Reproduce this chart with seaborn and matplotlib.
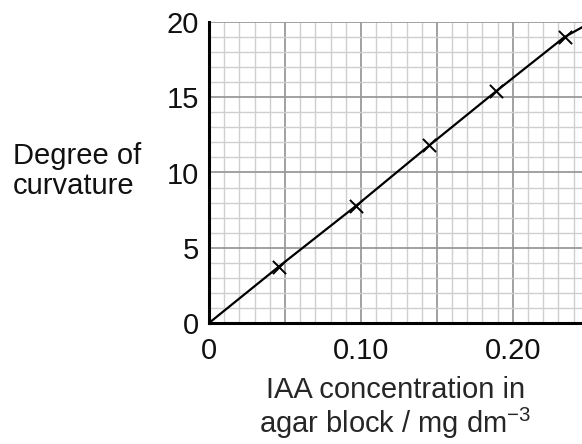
import matplotlib
matplotlib.use("Agg")
import matplotlib.pyplot as plt
import seaborn as sns
import numpy as np
import pandas as pd
from matplotlib.ticker import MultipleLocator

# Data
point_x = [0.046, 0.097, 0.145, 0.189, 0.234]
point_y = [3.75, 7.8, 11.8, 15.4, 19.0]
line_x = [0.0, 0.046, 0.097, 0.145, 0.189, 0.234, 0.25]
line_y = [0.0, 3.75, 7.8, 11.8, 15.4, 19.0, 19.9]
x_ticks = [0.0, 0.05, 0.10, 0.15, 0.20]
x_tick_labels = ["0", "", "0.10", "", "0.20"]
y_ticks = [0, 5, 10, 15, 20]
y_tick_labels = ["0", "5", "10", "15", "20"]

sns.set_theme(style="white")
plt.rcParams['font.family'] = ['Liberation Sans', 'DejaVu Sans']
plt.rcParams['text.color'] = '#111111'
plt.rcParams['xtick.color'] = '#111111'
plt.rcParams['ytick.color'] = '#111111'

fig = plt.figure(figsize=(5.82, 4.44), dpi=100)
ax = fig.add_axes([209/582, 1 - 323/444, 1 - 209/582, (323 - 22)/444])

ax.set_xlim(0, 0.2455)
ax.set_ylim(0, 20)

ax.xaxis.set_minor_locator(MultipleLocator(0.01))
ax.yaxis.set_minor_locator(MultipleLocator(1))
ax.grid(which='minor', color='#cfcfcf', lw=1.0, zorder=0)
ax.grid(which='major', color='#9a9a9a', lw=1.3, zorder=0)
ax.set_axisbelow(True)

line_df = pd.DataFrame({"x": line_x, "y": line_y})
pt_df = pd.DataFrame({"x": point_x, "y": point_y})
sns.lineplot(data=line_df, x="x", y="y", ax=ax, color='black', lw=1.6,
             sort=False, estimator=None)
sns.scatterplot(data=pt_df, x="x", y="y", ax=ax, marker='x', s=90,
                color='black', linewidth=1.4, zorder=5)

ax.set_xticks(x_ticks)
ax.set_xticklabels(x_tick_labels)
ax.set_yticks(y_ticks)
ax.set_yticklabels(y_tick_labels)
ax.tick_params(axis='y', which='major', labelsize=21, length=5, width=1,
               color='#555555', direction='out', pad=2)
ax.tick_params(axis='both', which='minor', length=0)
ax.tick_params(axis='x', which='major', labelsize=21, length=0, pad=10)

for s in ['top', 'right']:
    ax.spines[s].set_visible(False)
for s in ['left', 'bottom']:
    ax.spines[s].set_color('black')
    ax.spines[s].set_linewidth(2.2)

ax.set_xlabel("IAA concentration in\nagar block / mg dm$^{\\mathregular{-3}}$",
              fontsize=21, labelpad=8, linespacing=1.05)
ax.set_ylabel("")

fig.text(13/582, 1 - 171/444, "Degree of\ncurvature", fontsize=21,
         ha='left', va='center', linespacing=1.05)

fig.savefig("out.png", dpi=100)
